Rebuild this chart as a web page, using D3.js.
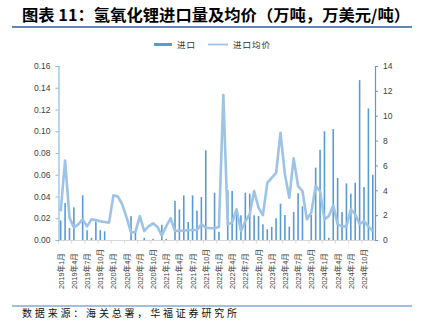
<!DOCTYPE html>
<html>
<head>
<meta charset="utf-8">
<script src="https://cdn.jsdelivr.net/npm/d3@7"></script>
<style>
  html, body { margin: 0; padding: 0; background: #fff; }
  svg { display: block; }
</style>
</head>
<body>
<svg id="chart" width="422" height="332"></svg>
<script>
// ---------- data ----------
const years = [2019, 2020, 2021, 2022, 2023, 2024];
const monthNums = [1,2,3,4,5,6,7,8,9,10,11,12];
const categories = [];
years.forEach(y => monthNums.forEach(m => categories.push(y + "年" + m + "月")));

// 进口 (万吨)
const importVolume = [
  0.018, 0.034, 0.011, 0.030, 0, 0.041, 0.009, 0.002, 0.017, 0.009, 0.008, 0,
  0, 0, 0, 0, 0.022, 0.007, 0, 0.002, 0, 0.001, 0, 0.014,
  0.001, 0, 0.036, 0.028, 0.041, 0.0166, 0.041, 0.027, 0.0395, 0.0825, 0, 0.0435,
  0.0076, 0, 0.0457, 0.045, 0.0235, 0.0227, 0.0435, 0.0426, 0.0227, 0.022, 0.0144, 0.0098,
  0.012, 0.020, 0.0334, 0.023, 0.0122, 0.0257, 0.043, 0.031, 0, 0.023, 0.0665, 0.083,
  0.100, 0.002, 0.102, 0.057, 0.0257, 0.052, 0.0426, 0.0527, 0.147, 0.0487, 0.121, 0.060
];
// 进口均价 (万美元/吨)
const avgPrice = [
  2.3, 6.4, 1.8, 1.0, 1.26, 1.66, 1.1, 1.66, 1.6, 1.5, 1.45, 1.4,
  3.6, 3.5, 2.87, 1.8, 0.6, 0.65, 1.93, 0.72, 1.1, 1.34, 1.05, 0.35,
  1.1, 1.75, 0.72, 0.75, 0.75, 0.8, 0.8, 0.8, 1.26, 1.0, 0.95, 0.95,
  1.05, 11.67, 1.26, 1.4, 2.47, 0.72, 1.5, 2.07, 3.94, 2.6, 2.0, 4.6,
  5.0, 5.4, 8.63, 5.3, 3.4, 6.57, 4.34, 3.94, 1.66, 2.2, 4.34, 3.94,
  1.66, 1.93, 2.8, 1.26, 1.1, 1.1, 2.47, 2.07, 1.26, 1.53, 1.1, 0.72
];
const leftTicks = [0, 0.02, 0.04, 0.06, 0.08, 0.10, 0.12, 0.14, 0.16];
const rightTicks = [0, 2, 4, 6, 8, 10, 12, 14];
const seriesNames = ["进口", "进口均价"];
const titleText = "图表 11：氢氧化锂进口量及均价（万吨，万美元/吨）";
const sourceText = "数据来源：海关总署，华福证券研究所";

// ---------- styles ----------
const barColor = "#5B9BD5";
const lineColor = "#9DC3E6";
const latin = "'Liberation Sans', Arial, 'Noto Sans CJK SC', sans-serif";
const cjk = "'Noto Sans CJK SC', 'Liberation Sans', sans-serif";

const svg = d3.select("#chart");

const x = d3.scaleBand().domain(categories).range([58.5, 375]).padding(0);
const yL = d3.scaleLinear().domain([0, 0.16]).range([240, 66]);
const yR = d3.scaleLinear().domain([0, 14]).range([240, 66]);

// title
svg.append("text")
  .attr("x", 22).attr("y", 21)
  .attr("font-family", cjk).attr("font-size", 15.5).attr("font-weight", "bold")
  .attr("fill", "#000")
  .attr("textLength", 388).attr("lengthAdjust", "spacingAndGlyphs")
  .text(titleText);
svg.append("line").attr("x1", 12).attr("x2", 412).attr("y1", 27).attr("y2", 27)
  .attr("stroke", "#2E5C9E").attr("stroke-width", 1.5);

// legend
const lg = svg.append("g");
lg.append("rect").attr("x", 154).attr("y", 43).attr("width", 18).attr("height", 3).attr("fill", barColor);
lg.append("text").attr("x", 177).attr("y", 47.5).attr("font-family", cjk).attr("font-size", 8.5)
  .attr("letter-spacing", 1).attr("fill", "#333").text(seriesNames[0]);
lg.append("line").attr("x1", 208).attr("x2", 228).attr("y1", 44.5).attr("y2", 44.5)
  .attr("stroke", lineColor).attr("stroke-width", 1.8);
lg.append("text").attr("x", 233).attr("y", 47.5).attr("font-family", cjk).attr("font-size", 8.5)
  .attr("letter-spacing", 1).attr("fill", "#333").text(seriesNames[1]);

// x axis line + ticks every 3 months
svg.append("line").attr("x1", 58.5).attr("x2", 375).attr("y1", 240.5).attr("y2", 240.5)
  .attr("stroke", "#D9D9D9").attr("stroke-width", 1);
svg.append("g").selectAll("line").data(categories.filter((d, i) => i % 3 === 0))
  .join("line")
  .attr("x1", d => x(d)).attr("x2", d => x(d))
  .attr("y1", 240.5).attr("y2", 243.5)
  .attr("stroke", "#D9D9D9");

// bars
svg.append("g").selectAll("rect").data(importVolume)
  .join("rect")
  .attr("x", (d, i) => x(categories[i]) + x.bandwidth() / 2 - 0.8)
  .attr("width", 1.6)
  .attr("y", d => yL(d))
  .attr("height", d => 240 - yL(d))
  .attr("fill", barColor);

// line
const line = d3.line()
  .x((d, i) => x(categories[i]) + x.bandwidth() / 2)
  .y(d => yR(d));
svg.append("path").datum(avgPrice)
  .attr("d", line)
  .attr("fill", "none")
  .attr("stroke", lineColor)
  .attr("stroke-width", 2.6)
  .attr("stroke-linejoin", "round");

// left axis
const axL = svg.append("g").attr("transform", "translate(58.5,0)")
  .call(d3.axisLeft(yL).tickValues(leftTicks).tickFormat(d3.format(".2f")).tickSize(3).tickPadding(5));
axL.select(".domain").attr("stroke", "#8DB9E3").attr("stroke-width", 1.2);
axL.selectAll(".tick line").attr("stroke", "#8DB9E3");
axL.selectAll("text").attr("font-family", latin).attr("font-size", 8.5).attr("fill", "#404040");

// right axis
const axR = svg.append("g").attr("transform", "translate(375,0)")
  .call(d3.axisRight(yR).tickValues(rightTicks).tickSize(3).tickPadding(5));
axR.select(".domain").attr("stroke", barColor).attr("stroke-width", 1.2);
axR.selectAll(".tick line").attr("stroke", barColor);
axR.selectAll("text").attr("font-family", latin).attr("font-size", 8.5).attr("fill", "#404040");

// x labels every 3 months, rotated
svg.append("g").selectAll("text").data(categories.filter((d, i) => i % 3 === 0 && i < 70))
  .join("text")
  .attr("transform", d => `translate(${x(d) + x.bandwidth() / 2 + 3},289) rotate(-90)`)
  .attr("text-anchor", "start")
  .attr("font-family", latin).attr("font-size", 7.5).attr("fill", "#404040")
  .text(d => d);

// source
svg.append("line").attr("x1", 12).attr("x2", 412).attr("y1", 306).attr("y2", 306)
  .attr("stroke", "#4A7EC0").attr("stroke-width", 1.2);
svg.append("text").attr("x", 22).attr("y", 316.5)
  .attr("font-family", cjk).attr("font-size", 10).attr("fill", "#111")
  .attr("textLength", 215).attr("lengthAdjust", "spacing")
  .text(sourceText);
</script>
</body>
</html>
